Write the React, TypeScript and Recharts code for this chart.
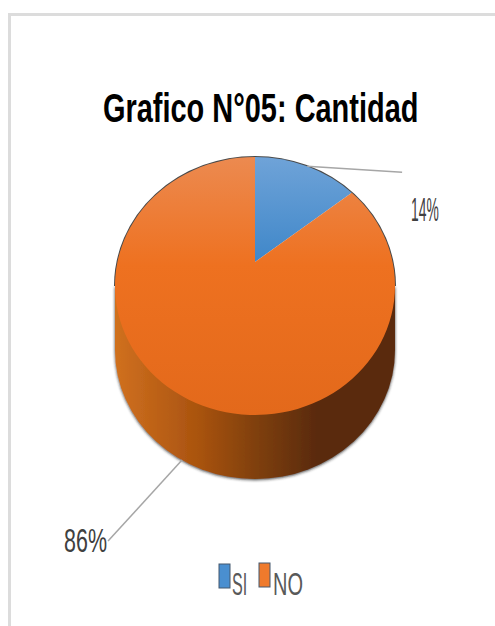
import React from "react";
import { PieChart, Pie, Legend } from "recharts";

const categories = ["SI", "NO"];
const values = [14, 86];
const labels = ["14%", "86%"];
const legendColors = ["#4a8fd0", "#ef7a2c"];
const faceFills = ["url(#faceBlue)", "url(#faceOrange)"];
const pieData = categories.map((name, i) => ({ name, value: values[i] }));

const W = 495, H = 626;
const CX = 255, CY = 262, R = 140;
// The disc is an ellipse whose centre lies below the apex of the slices (perspective).
const RY_RATIO = 129 / 140, SHIFT = 24, FORESHORTEN = 0.865, DEPTH = 64;
const SANS = "'Liberation Sans',sans-serif";

// Where the slice edge at `deg` leaves the apex and meets the ellipse.
const rim = (cx: number, cy: number, r: number, deg: number) => {
  const a = (deg * Math.PI) / 180;
  const ux = Math.cos(a), uy = -Math.sin(a) * FORESHORTEN;
  const ry = r * RY_RATIO;
  const A = (ux * ux) / (r * r) + (uy * uy) / (ry * ry);
  const B = (2 * (-SHIFT) * uy) / (ry * ry);
  const C = (SHIFT * SHIFT) / (ry * ry) - 1;
  const t = (-B + Math.sqrt(B * B - 4 * A * C)) / (2 * A);
  return [cx + ux * t, cy + uy * t];
};

const FaceShape = (p: any) => {
  const r = p.outerRadius;
  const ry = r * RY_RATIO;
  const [sx, sy] = rim(p.cx, p.cy, r, p.startAngle);
  const [ex, ey] = rim(p.cx, p.cy, r, p.endAngle);
  const large = p.startAngle - p.endAngle > 180 ? 1 : 0;
  return (
    <path
      d={`M ${p.cx} ${p.cy} L ${sx} ${sy} A ${r} ${ry} 0 ${large} 1 ${ex} ${ey} Z`}
      fill={faceFills[categories.indexOf(p.name)]}
    />
  );
};

// Side wall: only the slice facing the viewer shows a wall.
const WallShape = (p: any) => {
  if (p.endAngle > -180) return <g />;
  const r = p.outerRadius;
  const ry = r * RY_RATIO;
  const top = p.cy + SHIFT;
  const bottom = top + DEPTH;
  return (
    <g>
      <path
        d={`M ${p.cx - r} ${top} L ${p.cx - r} ${bottom} A ${r} ${ry} 0 0 0 ${p.cx + r} ${bottom} L ${p.cx + r} ${top} Z`}
        fill="url(#wall)"
        filter="url(#edge)"
      />
      <path
        d={`M ${p.cx - r} ${top} A ${r} ${ry} 0 0 1 ${p.cx + r} ${top}`}
        fill="none"
        stroke="#4a4a4a"
        strokeWidth={2}
        filter="url(#soft)"
      />
    </g>
  );
};

const Stretched = ({ x, y, sx, size, fill, bold, children }: any) => (
  <g transform={`translate(${x} ${y}) scale(${sx} 1)`}>
    <text x={0} y={0} fontFamily={SANS} fontSize={size} fontWeight={bold ? 700 : 400} fill={fill}>
      {children}
    </text>
  </g>
);

const renderLabel = (p: any) => {
  const i = categories.indexOf(p.name);
  const [bx, by] = rim(p.cx, p.cy, p.outerRadius, p.midAngle);
  const ax = bx, ay = by + (i === 1 ? DEPTH : 0);
  const ends = i === 0 ? [ax + 95, ay + 6] : [ax - 74, ay + 81];
  const text = i === 0
    ? { x: ax + 104, y: ay + 55, sx: 0.42, size: 33 }
    : { x: ax - 118, y: ay + 92, sx: 0.65, size: 33 };
  return (
    <g key={p.name}>
      <line x1={ax} y1={ay} x2={ends[0]} y2={ends[1]} stroke="#a6a6a6" strokeWidth={1.5} />
      <Stretched x={text.x} y={text.y} sx={text.sx} size={text.size} fill="#404040">
        {labels[i]}
      </Stretched>
    </g>
  );
};

const LegendContent = () => {
  const marks = [
    { x: 219, y: 564, h: 24, tx: 232, sx: 0.52 },
    { x: 259, y: 563, h: 24, tx: 273, sx: 0.645 },
  ];
  return (
    <svg width={W} height={H} style={{ display: "block" }}>
      {categories.map((c, i) => (
        <g key={c}>
          <rect x={marks[i].x} y={marks[i].y} width={11} height={marks[i].h} fill={legendColors[i]} stroke="#45586e" strokeWidth={1} />
          <Stretched x={marks[i].tx} y={595} sx={marks[i].sx} size={31} fill="#595959">
            {c}
          </Stretched>
        </g>
      ))}
    </svg>
  );
};

export default function App() {
  return (
    <div style={{ position: "absolute", left: 0, top: 0, width: W, height: H, background: "#fff", overflow: "hidden" }}>
      <div style={{ position: "absolute", left: 8, top: 13, width: W, height: H, borderTop: "3px solid #dcdcdc", borderLeft: "3px solid #dcdcdc" }} />
      <PieChart width={W} height={H} margin={{ top: 0, right: 0, bottom: 0, left: 0 }} style={{ position: "absolute", left: 0, top: 0 }}>
        <defs>
          <linearGradient id="faceOrange" x1="0" y1="157" x2="0" y2="415" gradientUnits="userSpaceOnUse">
            <stop offset="0" stopColor="#ec8a50" />
            <stop offset="0.42" stopColor="#ee7120" />
            <stop offset="1" stopColor="#e3691b" />
          </linearGradient>
          <linearGradient id="faceBlue" x1="0" y1="157" x2="0" y2="262" gradientUnits="userSpaceOnUse">
            <stop offset="0" stopColor="#6fa3d8" />
            <stop offset="1" stopColor="#3f87c9" />
          </linearGradient>
          <linearGradient id="wall" x1="115" y1="0" x2="395" y2="0" gradientUnits="userSpaceOnUse">
            <stop offset="0" stopColor="#d0701f" />
            <stop offset="0.3" stopColor="#a9530f" />
            <stop offset="0.5" stopColor="#80400e" />
            <stop offset="0.72" stopColor="#5a2a09" />
            <stop offset="1" stopColor="#5a2a08" />
          </linearGradient>
          <filter id="edge" x="-5%" y="-5%" width="110%" height="110%">
            <feDropShadow dx="0" dy="1" stdDeviation="1.5" floodColor="#222" floodOpacity="0.85" />
          </filter>
          <filter id="soft" x="-5%" y="-5%" width="110%" height="110%">
            <feGaussianBlur stdDeviation="0.6" />
          </filter>
        </defs>
        <Stretched x={103} y={122} sx={0.706} size={41} fill="#000" bold>
          Grafico N°05: Cantidad
        </Stretched>
        <Pie
          data={pieData}
          dataKey="value"
          nameKey="name"
          cx={CX}
          cy={CY}
          outerRadius={R}
          startAngle={90}
          endAngle={-270}
          stroke="none"
          legendType="none"
          shape={WallShape}
          isAnimationActive={false}
        />
        <Pie
          data={pieData}
          dataKey="value"
          nameKey="name"
          cx={CX}
          cy={CY}
          outerRadius={R}
          startAngle={90}
          endAngle={-270}
          stroke="none"
          shape={FaceShape}
          label={renderLabel}
          labelLine={false}
          isAnimationActive={false}
        />
        <Legend content={LegendContent} wrapperStyle={{ position: "absolute", left: 0, top: 0, width: W, height: H, pointerEvents: "none" }} />
      </PieChart>
    </div>
  );
}
